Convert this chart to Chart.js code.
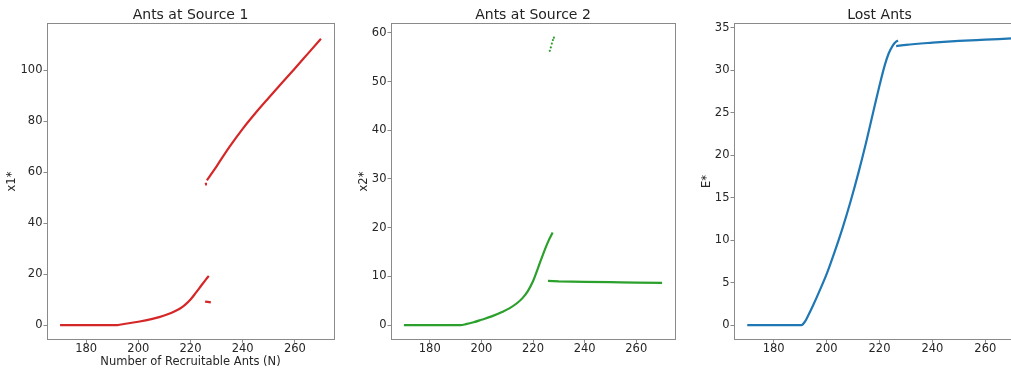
<!DOCTYPE html>
<html>
<head>
<meta charset="utf-8">
<script src="https://cdn.jsdelivr.net/npm/chart.js@4.4.0/dist/chart.umd.min.js"></script>
<style>
  html, body { margin: 0; padding: 0; background: #fff; overflow: hidden; }
  #wrap { position: relative; width: 1011px; height: 371px; overflow: hidden; }
  canvas { position: absolute; top: 0; }
</style>
</head>
<body>
<div id="wrap">
  <canvas id="chart1" width="340" height="371" style="left:0px"></canvas>
  <canvas id="chart2" width="340" height="371" style="left:340px"></canvas>
  <canvas id="chart3" width="360" height="371" style="left:680px"></canvas>
</div>
<script>
// ========================
// DATA
// ========================
const xTicks = [180, 200, 220, 240, 260];

// Ants at Source 1 (x1*)
const n1Low = [170, 180, 192, 195, 200, 205, 208, 211, 214, 216, 218, 220, 222, 224, 226, 227];
const x1Low = [0, 0, 0, 0.5, 1.3, 2.3, 3.1, 4.1, 5.4, 6.5, 8.0, 10.0, 12.6, 15.3, 18.0, 19.3];
const n1Stub = [225.6, 226.6, 227.8];
const x1Stub = [9.2, 9.1, 8.9];
const n1Dot = [225.6, 225.9];
const x1Dot = [55.2, 55.8];
const n1High = [226.3, 227, 228, 230, 235, 240, 245, 250, 255, 260, 265, 270];
const x1High = [56.8, 57.8, 59.3, 62.3, 70, 77, 83.3, 89.2, 95, 100.7, 106.5, 112.3];
const y1Ticks = [0, 20, 40, 60, 80, 100];

// Ants at Source 2 (x2*)
const n2Low = [170, 180, 192, 194, 197, 200, 204, 208, 211, 214, 216, 218, 220, 222, 224, 226, 227.6];
const x2Low = [0, 0, 0, 0.2, 0.6, 1.1, 1.8, 2.7, 3.5, 4.6, 5.6, 7.0, 9.0, 11.8, 14.7, 17.3, 19.0];
const n2Mid = [225.8, 230, 240, 250, 254, 260, 270];
const x2Mid = [9.1, 9.0, 8.9, 8.85, 8.8, 8.75, 8.7];
const n2High = [226.5, 226.9, 227.3, 227.7, 228.1];
const x2High = [56.3, 57.0, 57.8, 58.5, 59.0];
const y2Ticks = [0, 10, 20, 30, 40, 50, 60];

// Lost Ants (E*)
const n3Low = [170, 180, 190.5, 191, 192, 193, 195, 197, 200, 203, 206, 209, 212, 215, 218, 220, 222, 223.5, 225, 226, 227];
const eLow = [0, 0, 0, 0.1, 0.5, 1.1, 2.4, 3.8, 6.0, 8.6, 11.4, 14.5, 17.9, 21.6, 25.6, 28.2, 30.6, 32.0, 32.9, 33.3, 33.5];
const n3High = [226.3, 230, 240, 250, 260, 270];
const eHigh = [32.85, 33.0, 33.25, 33.45, 33.6, 33.75];
const y3Ticks = [0, 5, 10, 15, 20, 25, 30, 35];

// ========================
// HELPERS
// ========================
Chart.defaults.font.family = "'DejaVu Sans', sans-serif";
Chart.defaults.color = "#262626";

const toPoints = (xs, ys) => xs.map((x, i) => ({ x, y: ys[i] }));

const lineSet = (xs, ys, color, smooth = true) => ({
  data: toPoints(xs, ys),
  showLine: true,
  borderColor: color,
  borderWidth: 2.2,
  pointRadius: 0,
  cubicInterpolationMode: smooth ? "monotone" : "default",
  tension: 0,
});

const dotSet = (xs, ys, color) => ({
  data: toPoints(xs, ys),
  showLine: false,
  pointRadius: 1.1,
  pointBorderWidth: 0,
  pointBackgroundColor: color,
});

// spines on all four sides
const framePlugin = {
  id: "frame",
  afterDraw(chart) {
    const { ctx, chartArea: a } = chart;
    ctx.save();
    ctx.strokeStyle = "#8a8a8a";
    ctx.lineWidth = 1;
    const l = Math.floor(a.left) + 0.5;
    const t = Math.floor(a.top) + 0.5;
    const r = Math.floor(a.right) + 0.5;
    const b = Math.floor(a.bottom) + 0.5;
    ctx.strokeRect(l, t, r - l, b - t);
    ctx.restore();
  },
};

function makeChart(id, cfg) {
  const tickGrid = {
    display: true,
    drawOnChartArea: false,
    drawTicks: true,
    tickLength: 3.5,
    tickColor: "#8a8a8a",
  };
  return new Chart(document.getElementById(id), {
    type: "scatter",
    data: { datasets: cfg.datasets },
    plugins: [framePlugin],
    options: {
      responsive: false,
      animation: false,
      devicePixelRatio: 1,
      layout: { padding: { left: 0, right: cfg.padRight, top: 0, bottom: 0 } },
      plugins: {
        legend: { display: false },
        tooltip: { enabled: false },
        title: {
          display: true,
          text: cfg.title,
          fullSize: false,
          color: "#222",
          font: { size: 14, weight: "normal", lineHeight: 1.2 },
          padding: { top: 7, bottom: 0 },
        },
      },
      scales: {
        x: {
          type: "linear",
          min: 165,
          max: 275,
          grid: tickGrid,
          border: { display: false },
          ticks: { font: { size: 11.5, lineHeight: 1 }, padding: 0 },
          afterBuildTicks: (scale) => {
            scale.ticks = xTicks.map((v) => ({ value: v }));
          },
          afterFit: (scale) => {
            scale.height = 31.7;
          },
          title: {
            display: !!cfg.xTitle,
            text: cfg.xTitle || "",
            font: { size: 11.5, lineHeight: 1 },
            padding: { top: 0, bottom: 3 },
          },
        },
        y: {
          type: "linear",
          min: cfg.yMin,
          max: cfg.yMax,
          grid: tickGrid,
          border: { display: false },
          ticks: { font: { size: 11.5, lineHeight: 1 }, padding: 1 },
          afterBuildTicks: (scale) => {
            scale.ticks = cfg.yTicks.map((v) => ({ value: v }));
          },
          afterFit: (scale) => {
            scale.width = cfg.yWidth;
          },
          title: {
            display: true,
            text: cfg.yTitle,
            font: { size: 11.5, lineHeight: 1 },
            padding: { top: cfg.yTitlePad, bottom: 0 },
          },
        },
      },
    },
  });
}

// ========================
// CHARTS
// ========================
const red = "#d62728";
const green = "#2ca02c";
const blue = "#1f77b4";

makeChart("chart1", {
  title: "Ants at Source 1",
  xTitle: "Number of Recruitable Ants (N)",
  yTitle: "x1*",
  yMin: -5.6,
  yMax: 118.2,
  yTicks: y1Ticks,
  yWidth: 47,
  yTitlePad: 6,
  padRight: 6,
  datasets: [
    lineSet(n1Low, x1Low, red),
    lineSet(n1Stub, x1Stub, red, false),
    lineSet(n1Dot, x1Dot, red, false),
    lineSet(n1High, x1High, red),
  ],
});

makeChart("chart2", {
  title: "Ants at Source 2",
  yTitle: "x2*",
  yMin: -2.9,
  yMax: 61.85,
  yTicks: y2Ticks,
  yWidth: 51,
  yTitlePad: 18.5,
  padRight: 5,
  datasets: [
    lineSet(n2Low, x2Low, green),
    lineSet(n2Mid, x2Mid, green, false),
    dotSet(n2High, x2High, green),
  ],
});

makeChart("chart3", {
  title: "Lost Ants",
  yTitle: "E*",
  yMin: -1.66,
  yMax: 35.47,
  yTicks: y3Ticks,
  yWidth: 54,
  yTitlePad: 21.5,
  padRight: 15,
  datasets: [
    lineSet(n3Low, eLow, blue),
    lineSet(n3High, eHigh, blue),
  ],
});
</script>
</body>
</html>
